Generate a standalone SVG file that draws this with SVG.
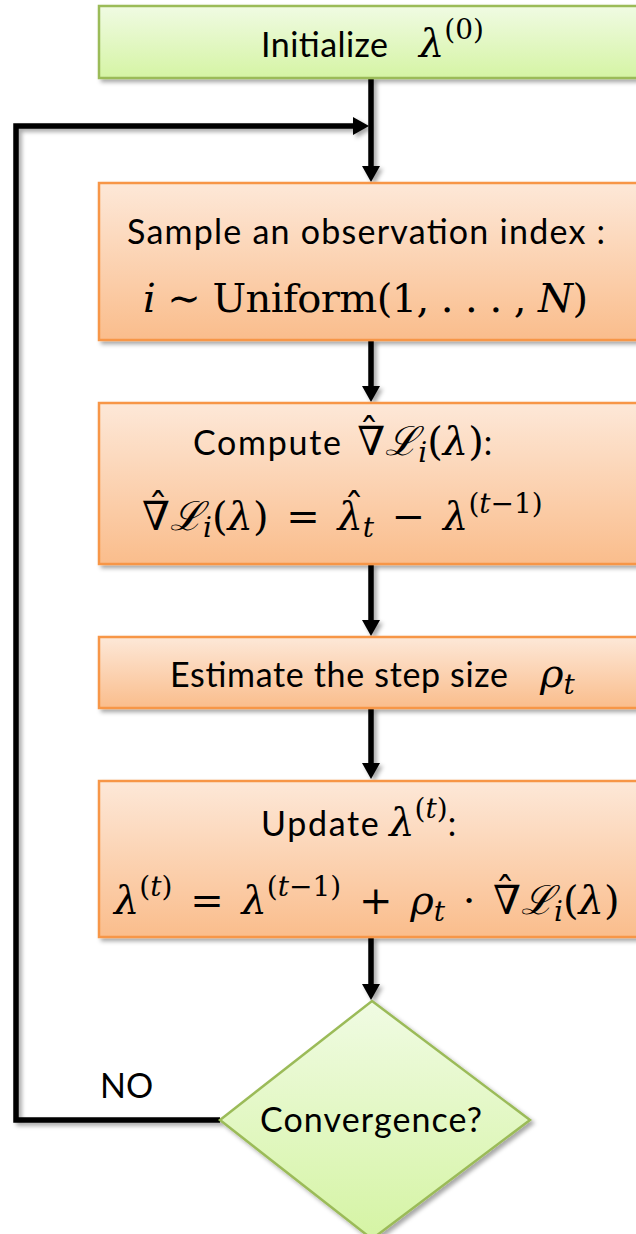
<svg xmlns="http://www.w3.org/2000/svg" width="636" height="1234" viewBox="0 0 636 1234">
  <defs>
    <linearGradient id="gOrange" x1="0" y1="0" x2="0" y2="1">
      <stop offset="0" stop-color="#fde8d8"/>
      <stop offset="1" stop-color="#fabd8c"/>
    </linearGradient>
    <linearGradient id="gGreen" x1="0" y1="0" x2="0" y2="1">
      <stop offset="0" stop-color="#f0fbe3"/>
      <stop offset="1" stop-color="#d5f4a4"/>
    </linearGradient>
    <filter id="shadow" x="-10%" y="-10%" width="130%" height="130%">
      <feDropShadow dx="3" dy="3" stdDeviation="2" flood-color="#000" flood-opacity="0.35"/>
    </filter>
    <marker id="arrow" viewBox="0 0 16 18" refX="0" refY="9" markerWidth="16" markerHeight="18" markerUnits="userSpaceOnUse" orient="auto">
      <path d="M0,0 L16,9 L0,18 z" fill="#000"/>
    </marker>
  </defs>
  <style>
    .box { fill: url(#gOrange); stroke: #f79646; stroke-width: 2.5; filter: url(#shadow); }
    .gbox { fill: url(#gGreen); stroke: #9bbb59; stroke-width: 2.5; filter: url(#shadow); }
    .wire { fill: none; stroke: #000; stroke-width: 5.5; marker-end: url(#arrow); }
    .txt { font-family: Lato, "Open Sans", sans-serif; font-size: 34px; font-style: normal; fill: #000; }
    .mr { font-family: "DejaVu Serif", "Liberation Serif", serif; font-style: normal; font-size: 40px; fill: #000; }
    .mi { font-style: italic; }
    .sc { font-style: italic; }
    .sm { font-size: 28px; }
    .wide { letter-spacing: 1.7px; }
  </style>

  <!-- connectors -->
  <g id="connectors" filter="url(#shadow)">
    <path class="wire" d="M371,78 V166"/>
    <path class="wire" d="M220,1120 H16 V126 H353"/>
    <path class="wire" d="M371,340 V386"/>
    <path class="wire" d="M371,564 V620"/>
    <path class="wire" d="M371,708 V763"/>
    <path class="wire" d="M371,937 V984"/>
  </g>

  <!-- start -->
  <g id="init">
    <rect class="gbox" x="99" y="6" width="560" height="72"/>
    <text class="txt" x="261" y="57" textLength="127">Initialize</text>
    <text class="mr" x="419" y="57"><tspan class="mi">λ</tspan><tspan class="sm" dy="-18">(0)</tspan></text>
  </g>

  <!-- sample index -->
  <g id="sample">
    <rect class="box" x="99" y="183" width="560" height="157"/>
    <text class="txt" x="127" y="244" textLength="478">Sample an observation index :</text>
    <text class="mr" x="143" y="312" textLength="445"><tspan class="mi">i</tspan> ∼ Uniform(1, . . . , <tspan class="mi">N</tspan>)</text>
  </g>

  <!-- gradient estimate: hats are placed last, at absolute positions -->
  <g id="compute">
    <rect class="box" x="99" y="403" width="560" height="161"/>
    <text class="txt" x="193" y="455" word-spacing="6"><tspan class="wide">Compute</tspan> <tspan class="mr">∇<tspan class="sc">ℒ</tspan><tspan class="mi sm" dy="7">i</tspan><tspan dy="-7">(</tspan><tspan class="mi">λ</tspan>)</tspan>:<tspan class="mr" x="369" y="446" text-anchor="middle">ˆ</tspan></text>

    <text class="mr" x="142" y="530" word-spacing="5">∇<tspan class="sc">ℒ</tspan><tspan class="mi sm" dy="7">i</tspan><tspan dy="-7">(</tspan><tspan class="mi">λ</tspan>) = <tspan class="mi">λ</tspan><tspan class="mi sm" dy="7">t</tspan><tspan dy="-7"> − </tspan><tspan class="mi">λ</tspan><tspan class="sm" dy="-17">(<tspan class="mi">t</tspan>−1)</tspan><tspan x="158" y="521" text-anchor="middle">ˆ</tspan><tspan x="354" y="521" text-anchor="middle">ˆ</tspan></text>
  </g>

  <!-- step size -->
  <g id="step">
    <rect class="box" x="99" y="637" width="560" height="71"/>
    <text class="txt" x="170" y="687" textLength="338">Estimate the step size</text>
    <text class="mr" x="540" y="687"><tspan class="mi">ρ</tspan><tspan class="mi sm" dy="7">t</tspan></text>
  </g>

  <!-- update -->
  <g id="update">
    <rect class="box" x="99" y="781" width="560" height="156"/>
    <text class="txt" x="261" y="836"><tspan class="wide">Update</tspan> <tspan class="mr mi">λ</tspan><tspan class="mr sm" dy="-18">(<tspan class="mi">t</tspan>)</tspan><tspan dy="18">:</tspan></text>

    <text class="mr" x="114" y="914" word-spacing="5"><tspan class="mi">λ</tspan><tspan class="sm" dy="-18">(<tspan class="mi">t</tspan>)</tspan><tspan dy="18"> = </tspan><tspan class="mi">λ</tspan><tspan class="sm" dy="-18">(<tspan class="mi">t</tspan>−1)</tspan><tspan dy="18"> + </tspan><tspan class="mi">ρ</tspan><tspan class="mi sm" dy="7">t</tspan><tspan dy="-7"> · ∇</tspan><tspan class="sc">ℒ</tspan><tspan class="mi sm" dy="7">i</tspan><tspan dy="-7">(</tspan><tspan class="mi">λ</tspan>)<tspan x="505" y="905" text-anchor="middle">ˆ</tspan></text>
  </g>

  <!-- decision -->
  <g id="converge">
    <polygon class="gbox" points="372,1001 530,1120 372,1239 220,1120"/>
    <text class="txt" x="260" y="1132" textLength="222">Convergence?</text>
  </g>

  <g id="label-no">
    <text class="txt" x="100" y="1098" font-size="30">NO</text>
  </g>
</svg>
